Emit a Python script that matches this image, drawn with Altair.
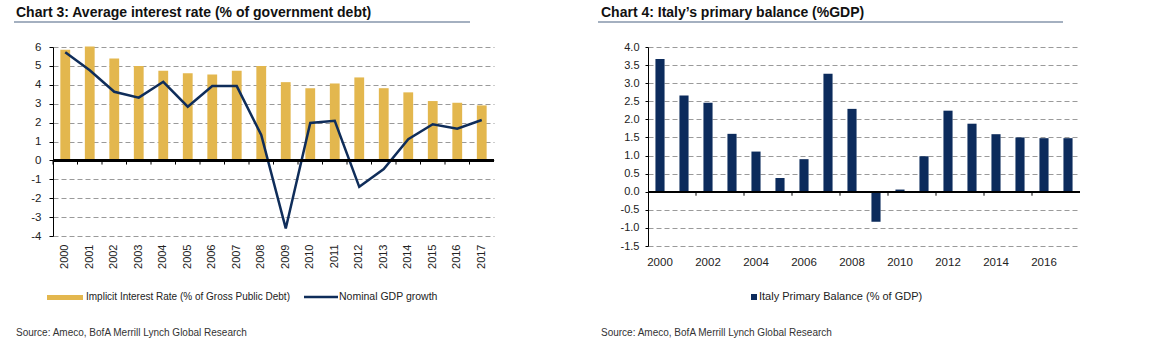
import altair as alt
import pandas as pd

years = [str(y) for y in range(2000, 2018)]
implicit_rate = [5.86, 6.03, 5.39, 5.0, 4.75, 4.61, 4.54, 4.75, 5.0, 4.14,
                 3.82, 4.07, 4.39, 3.82, 3.6, 3.14, 3.05, 2.91]
gdp_growth = [5.72, 4.77, 3.63, 3.32, 4.16, 2.84, 3.93, 3.93, 1.35, -3.6,
              1.98, 2.1, -1.4, -0.46, 1.12, 1.91, 1.68, 2.14]
primary_balance = [3.67, 2.66, 2.46, 1.6, 1.11, 0.38, 0.9, 3.26, 2.29, -0.83,
                   0.06, 0.98, 2.24, 1.88, 1.59, 1.5, 1.48, 1.48]

title3 = ["Chart 3: Average interest rate (% of government debt)"]
title4 = ["Chart 4: Italy\u2019s primary balance (%GDP)"]
legend3 = ["Implicit Interest Rate (% of Gross Public Debt)", "Nominal GDP growth"]
legend4 = ["Italy Primary Balance (% of GDP)"]
source = ["Source:  Ameco, BofA Merrill Lynch Global Research"]
left_ticks = list(range(-4, 7))
right_ticks = [-1.5, -1.0, -0.5, 0.0, 0.5, 1.0, 1.5, 2.0, 2.5, 3.0, 3.5, 4.0]

GOLD = "#E3B74E"
NAVY = "#0F2D5A"
NAVY_BAR = "#0C2B5C"
LINE_COL = "#4a6282"
FONT = "Liberation Sans, Arial, sans-serif"
TFONT = "Liberation Sans, Arial, sans-serif"
HYPHEN = "replace(datum.label, '\u2212', '-')"

df3 = pd.DataFrame({"year": years, "rate": implicit_rate, "gdp": gdp_growth})
df4 = pd.DataFrame({"year": years, "pb": primary_balance})

W3, H3 = 441, 189
W4, H4 = 432, 199


def one(text_list, key="t"):
    return pd.DataFrame({key: text_list})


# ---------- Chart 3 ----------
sc_x3 = alt.Scale(paddingInner=0.6, paddingOuter=0.3)
sc_y3 = alt.Scale(domain=[-4, 6], nice=False)
ax_x3 = alt.Axis(labelAngle=270, domain=False, ticks=False, labelPadding=8,
                 labelFont=FONT, labelFontSize=11, labelColor="#222")
ax_y3 = alt.Axis(values=left_ticks, grid=True, gridDash=[5, 3], gridColor="#9a9a9a",
                 gridWidth=1, domain=True, domainColor="#000", domainWidth=1,
                 tickColor="#000", tickSize=4, labelPadding=8, labelOverlap=False,
                 labelFont=FONT, labelFontSize=11.5, labelColor="#222", format="d",
                 labelExpr=HYPHEN)
x3 = alt.X("year:N", sort=years, title=None, scale=sc_x3, axis=ax_x3)


def y3(field):
    return alt.Y(field, title=None, scale=sc_y3, axis=ax_y3)


base3 = alt.Chart(df3).transform_calculate(zero="0", tick_end="-0.22")
bars3 = base3.mark_bar(color=GOLD).encode(x=x3, y=y3("rate:Q"))
zero3 = base3.mark_rule(color="#000", strokeWidth=1.5).encode(y=y3("zero:Q"))
ticks3 = base3.mark_rule(color="#000", strokeWidth=1, xOffset=-12.25).encode(
    x=x3, y=y3("zero:Q"), y2="tick_end:Q")
line3 = base3.mark_line(color=NAVY, strokeWidth=2.5).encode(x=x3, y=y3("gdp:Q"))

t3 = alt.Chart(one(title3)).mark_text(align="left", baseline="top", font=TFONT,
                                      fontSize=14, fontWeight="bold", color="#111").encode(
    text="t:N", x=alt.value(-37), y=alt.value(-41))
u3 = alt.Chart(one(title3)).mark_rule(color=LINE_COL, strokeWidth=1.2).encode(
    x=alt.value(-39), x2=alt.value(417), y=alt.value(-25))
lg3_rect = alt.Chart(one(legend3[:1])).mark_rect(color=GOLD).encode(
    x=alt.value(-6), x2=alt.value(30), y=alt.value(248), y2=alt.value(253))
lg3_t1 = alt.Chart(one(legend3[:1])).mark_text(align="left", baseline="middle", font=FONT,
                                               fontSize=10, color="#222").encode(
    text="t:N", x=alt.value(33), y=alt.value(250))
lg3_line = alt.Chart(one(legend3[1:])).mark_rule(color=NAVY, strokeWidth=2.5).encode(
    x=alt.value(251), x2=alt.value(285), y=alt.value(250))
lg3_t2 = alt.Chart(one(legend3[1:])).mark_text(align="left", baseline="middle", font=FONT,
                                               fontSize=10.5, color="#222").encode(
    text="t:N", x=alt.value(286), y=alt.value(250))
src3 = alt.Chart(one(source)).mark_text(align="left", baseline="middle", font=FONT,
                                        fontSize=10, color="#333").encode(
    text="t:N", x=alt.value(-37), y=alt.value(286))

chart3 = alt.layer(bars3, line3, zero3, ticks3, t3, u3, lg3_rect, lg3_t1, lg3_line,
                   lg3_t2, src3).properties(width=W3, height=H3)

# ---------- Chart 4 ----------
sc_x4 = alt.Scale(paddingInner=0.62, paddingOuter=0.31)
sc_y4 = alt.Scale(domain=[-1.5, 4], nice=False)
ax_x4 = alt.Axis(labelAngle=0, domain=False, ticks=False, labelPadding=10,
                 labelOverlap=False,
                 labelExpr="toNumber(datum.value) % 2 == 0 ? datum.value : ''",
                 labelFont=FONT, labelFontSize=11.5, labelColor="#222")
ax_y4 = alt.Axis(values=right_ticks, grid=True, gridDash=[5, 3], gridColor="#9a9a9a",
                 gridWidth=1, domain=True, domainColor="#000", domainWidth=1,
                 tickColor="#000", tickSize=3, labelPadding=6, labelOverlap=False,
                 labelFont=FONT, labelFontSize=11, labelColor="#222", format=".1f",
                 labelExpr=HYPHEN)
x4 = alt.X("year:N", sort=years, title=None, scale=sc_x4, axis=ax_x4)


def y4(field):
    return alt.Y(field, title=None, scale=sc_y4, axis=ax_y4)


base4 = alt.Chart(df4).transform_calculate(zero="0", tick_end="-0.11")
bars4 = base4.mark_bar(color=NAVY_BAR).encode(x=x4, y=y4("pb:Q"))
zero4 = base4.mark_rule(color="#000", strokeWidth=1.5).encode(y=y4("zero:Q"))
ticks4 = base4.transform_filter(
    "toNumber(datum.year) % 2 == 0 && toNumber(datum.year) > 2000"
).mark_rule(color="#000", strokeWidth=1, xOffset=-12).encode(
    x=x4, y=y4("zero:Q"), y2="tick_end:Q")

t4 = alt.Chart(one(title4)).mark_text(align="left", baseline="top", font=TFONT,
                                      fontSize=14, fontWeight="bold", color="#111").encode(
    text="t:N", x=alt.value(-47), y=alt.value(-41))
u4 = alt.Chart(one(title4)).mark_rule(color=LINE_COL, strokeWidth=1.2).encode(
    x=alt.value(-50), x2=alt.value(415), y=alt.value(-25))
lg4_rect = alt.Chart(one(legend4)).mark_rect(color=NAVY_BAR).encode(
    x=alt.value(103), x2=alt.value(109), y=alt.value(247), y2=alt.value(253))
lg4_t = alt.Chart(one(legend4)).mark_text(align="left", baseline="middle", font=FONT,
                                          fontSize=11, color="#222").encode(
    text="t:N", x=alt.value(111), y=alt.value(250))
src4 = alt.Chart(one(source)).mark_text(align="left", baseline="middle", font=FONT,
                                        fontSize=10, color="#333").encode(
    text="t:N", x=alt.value(-47), y=alt.value(286))

chart4 = alt.layer(bars4, zero4, ticks4, t4, u4, lg4_rect, lg4_t, src4).properties(
    width=W4, height=H4)

chart = alt.hconcat(chart3, chart4, spacing=154, bounds="flush").properties(
    padding={"left": 13, "top": 6, "right": 5, "bottom": 5},
    background="white",
).configure_view(stroke=None)

chart.save("out.html", embed_options={"renderer": "svg", "actions": False})
